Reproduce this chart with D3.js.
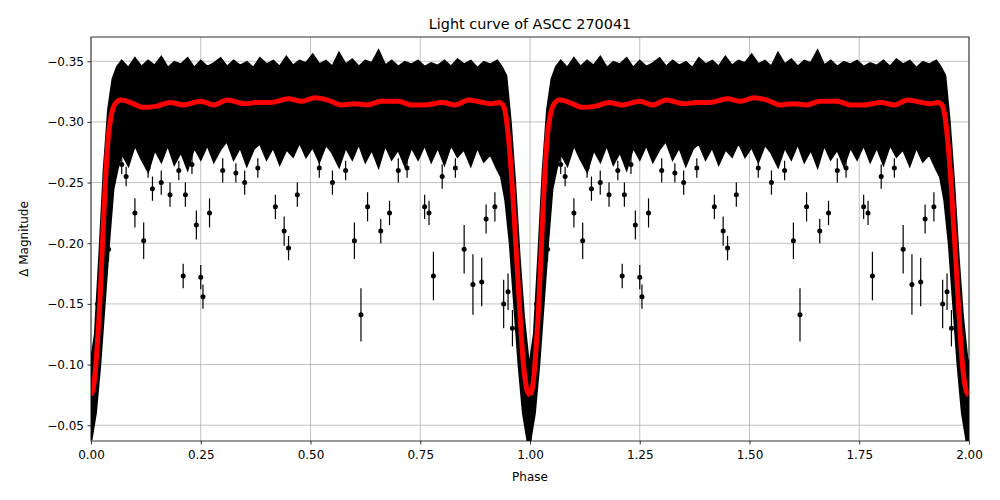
<!DOCTYPE html>
<html><head><meta charset="utf-8">
<script src="https://cdn.jsdelivr.net/npm/d3@7"></script>
<style>body{margin:0;background:#fff}text{font-family:"DejaVu Sans",sans-serif}</style>
</head><body><svg id="c" width="1000" height="500"></svg>
<script>
// model curve (one cycle)
const modelPhase=[0,0.005,0.01,0.015,0.02,0.025,0.03,0.035,0.04,0.045,0.05,0.055,0.06,0.065,0.07,0.09,0.12,0.15,0.18,0.21,0.25,0.28,0.31,0.35,0.38,0.41,0.45,0.48,0.51,0.54,0.57,0.6,0.63,0.66,0.7,0.73,0.76,0.8,0.83,0.86,0.88,0.91,0.93,0.94,0.945,0.95,0.955,0.96,0.965,0.97,0.975,0.98,0.985,0.99,0.995,1.0];
const modelMag=[-0.075,-0.08,-0.095,-0.12,-0.15,-0.19,-0.23,-0.265,-0.29,-0.303,-0.311,-0.315,-0.317,-0.318,-0.318,-0.316,-0.312,-0.313,-0.316,-0.314,-0.317,-0.314,-0.318,-0.315,-0.316,-0.316,-0.319,-0.317,-0.32,-0.318,-0.314,-0.315,-0.314,-0.317,-0.317,-0.314,-0.314,-0.316,-0.314,-0.318,-0.317,-0.315,-0.316,-0.313,-0.305,-0.29,-0.27,-0.245,-0.215,-0.185,-0.155,-0.125,-0.1,-0.085,-0.077,-0.075];
// dense band envelopes (one cycle)
const bandPhase=[0,0.01,0.02,0.03,0.04,0.05,0.06,0.07,0.085,0.1,0.115,0.13,0.145,0.16,0.175,0.19,0.205,0.22,0.235,0.25,0.265,0.28,0.295,0.31,0.325,0.34,0.355,0.37,0.385,0.4,0.415,0.43,0.445,0.46,0.475,0.49,0.505,0.52,0.535,0.55,0.565,0.58,0.595,0.61,0.625,0.64,0.655,0.67,0.685,0.7,0.715,0.73,0.745,0.76,0.775,0.79,0.805,0.82,0.835,0.85,0.865,0.88,0.895,0.91,0.925,0.935,0.945,0.955,0.965,0.975,0.985,0.995,1.0];
const bandUpper=[-0.1,-0.125,-0.19,-0.26,-0.31,-0.335,-0.345,-0.35,-0.344,-0.352,-0.345,-0.35,-0.346,-0.353,-0.344,-0.349,-0.347,-0.352,-0.344,-0.35,-0.345,-0.348,-0.352,-0.345,-0.35,-0.346,-0.349,-0.344,-0.352,-0.347,-0.35,-0.345,-0.353,-0.346,-0.35,-0.348,-0.355,-0.347,-0.35,-0.345,-0.356,-0.347,-0.351,-0.345,-0.35,-0.348,-0.358,-0.346,-0.35,-0.345,-0.349,-0.347,-0.35,-0.345,-0.348,-0.346,-0.35,-0.345,-0.351,-0.347,-0.35,-0.344,-0.349,-0.347,-0.35,-0.345,-0.338,-0.3,-0.25,-0.19,-0.14,-0.105,-0.1];
const bandLower=[-0.038,-0.06,-0.1,-0.15,-0.2,-0.245,-0.262,-0.275,-0.265,-0.282,-0.27,-0.26,-0.278,-0.268,-0.282,-0.266,-0.276,-0.262,-0.28,-0.27,-0.282,-0.268,-0.278,-0.285,-0.27,-0.28,-0.265,-0.278,-0.283,-0.27,-0.28,-0.266,-0.278,-0.272,-0.284,-0.272,-0.28,-0.268,-0.282,-0.275,-0.264,-0.28,-0.27,-0.283,-0.268,-0.278,-0.264,-0.282,-0.27,-0.278,-0.265,-0.28,-0.27,-0.282,-0.268,-0.28,-0.266,-0.282,-0.272,-0.278,-0.265,-0.28,-0.268,-0.274,-0.262,-0.255,-0.235,-0.2,-0.15,-0.1,-0.06,-0.038,-0.038];
// outlier points (one cycle): phase, mag, err
const outPhase=[0.015,0.025,0.04,0.05,0.07,0.08,0.1,0.12,0.13,0.14,0.16,0.18,0.2,0.21,0.215,0.23,0.24,0.25,0.255,0.27,0.3,0.33,0.35,0.38,0.42,0.44,0.45,0.47,0.52,0.55,0.58,0.6,0.615,0.63,0.66,0.68,0.7,0.72,0.76,0.77,0.78,0.8,0.83,0.85,0.87,0.89,0.9,0.92,0.94,0.95,0.96];
const outMag=[-0.15,-0.2,-0.195,-0.25,-0.265,-0.255,-0.225,-0.202,-0.262,-0.245,-0.25,-0.24,-0.26,-0.173,-0.24,-0.265,-0.215,-0.172,-0.156,-0.225,-0.26,-0.258,-0.25,-0.262,-0.23,-0.21,-0.196,-0.24,-0.262,-0.25,-0.26,-0.202,-0.141,-0.23,-0.21,-0.225,-0.26,-0.262,-0.23,-0.225,-0.173,-0.255,-0.262,-0.195,-0.166,-0.168,-0.22,-0.23,-0.15,-0.16,-0.13];
const outErr=[0.008,0.01,0.01,0.01,0.008,0.008,0.012,0.015,0.008,0.01,0.01,0.01,0.008,0.01,0.01,0.008,0.012,0.01,0.01,0.012,0.01,0.008,0.01,0.008,0.01,0.012,0.01,0.01,0.008,0.01,0.008,0.015,0.022,0.012,0.01,0.01,0.01,0.008,0.01,0.01,0.02,0.01,0.008,0.02,0.025,0.02,0.012,0.012,0.02,0.015,0.015];
const xTicks=[0,0.25,0.5,0.75,1,1.25,1.5,1.75,2];
const yTicks=[-0.35,-0.30,-0.25,-0.20,-0.15,-0.10,-0.05];

const svg=d3.select("#c");
const L=91,R=969,T=37,B=441;
const x=d3.scaleLinear().domain([0,2]).range([L,R]);
const y=d3.scaleLinear().domain([-0.37,-0.037]).range([T,B]);
svg.append("defs").append("clipPath").attr("id","cp").append("rect").attr("x",L).attr("y",T).attr("width",R-L).attr("height",B-T);
const g=svg.append("g");
g.selectAll(".gx").data(xTicks).join("line").attr("x1",d=>x(d)).attr("x2",d=>x(d)).attr("y1",T).attr("y2",B).attr("stroke","#b0b0b0").attr("stroke-width",0.8);
g.selectAll(".gy").data(yTicks).join("line").attr("y1",d=>y(d)).attr("y2",d=>y(d)).attr("x1",L).attr("x2",R).attr("stroke","#b0b0b0").attr("stroke-width",0.8);
const pg=svg.append("g").attr("clip-path","url(#cp)");
const cycles=[0,1];
const band=bandPhase.map((p,i)=>({p,u:bandUpper[i],l:bandLower[i]}));
const area=d3.area().x(d=>x(d.p)).y0(d=>y(d.l)).y1(d=>y(d.u)).curve(d3.curveLinear);
cycles.forEach(c=>{
  const b=band.map(d=>({p:d.p+c,u:d.u,l:d.l}));
  pg.append("path").attr("d",area(b)).attr("fill","#000").attr("stroke","#000").attr("stroke-width",3);
  const pts=outPhase.map((p,i)=>({p:p+c,m:outMag[i],e:outErr[i]}));
  pg.selectAll(null).data(pts).join("line").attr("x1",d=>x(d.p)).attr("x2",d=>x(d.p)).attr("y1",d=>y(d.m-d.e)).attr("y2",d=>y(d.m+d.e)).attr("stroke","#000").attr("stroke-width",1.2);
  pg.selectAll(null).data(pts).join("circle").attr("cx",d=>x(d.p)).attr("cy",d=>y(d.m)).attr("r",2.5).attr("fill","#000");
});
const line=d3.line().x(d=>x(d[0])).y(d=>y(d[1])).curve(d3.curveMonotoneX);
cycles.forEach(c=>{
  pg.append("path").attr("d",line(modelPhase.map((p,i)=>[p+c,modelMag[i]]))).attr("fill","none").attr("stroke","red").attr("stroke-width",5);
});
svg.append("rect").attr("x",L).attr("y",T).attr("width",R-L).attr("height",B-T).attr("fill","none").attr("stroke","#000").attr("stroke-width",0.8);
const xa=svg.append("g").attr("transform",`translate(0,${B})`).call(d3.axisBottom(x).tickValues(xTicks).tickFormat(d3.format(".2f")).tickSizeOuter(0));
const ya=svg.append("g").attr("transform",`translate(${L},0)`).call(d3.axisLeft(y).tickValues(yTicks).tickFormat(d=>d3.format(".2f")(d).replace("-","−")).tickSizeOuter(0));
[xa,ya].forEach(a=>{a.select(".domain").remove();a.selectAll("text").attr("font-size",12).attr("fill","#000");a.selectAll("line").attr("stroke","#000").attr("stroke-width",0.8);});
xa.selectAll("line").attr("y2",3.5);
ya.selectAll("line").attr("x2",-3.5);
ya.selectAll("text").attr("x",-7);
svg.append("text").attr("x",(L+R)/2).attr("y",29).attr("text-anchor","middle").attr("font-size",14.4).text("Light curve of ASCC 270041");
svg.append("text").attr("x",(L+R)/2).attr("y",481).attr("text-anchor","middle").attr("font-size",12).text("Phase");
svg.append("text").attr("transform",`translate(28,${(T+B)/2}) rotate(-90)`).attr("text-anchor","middle").attr("font-size",12).text("Δ Magnitude");
</script></body></html>
